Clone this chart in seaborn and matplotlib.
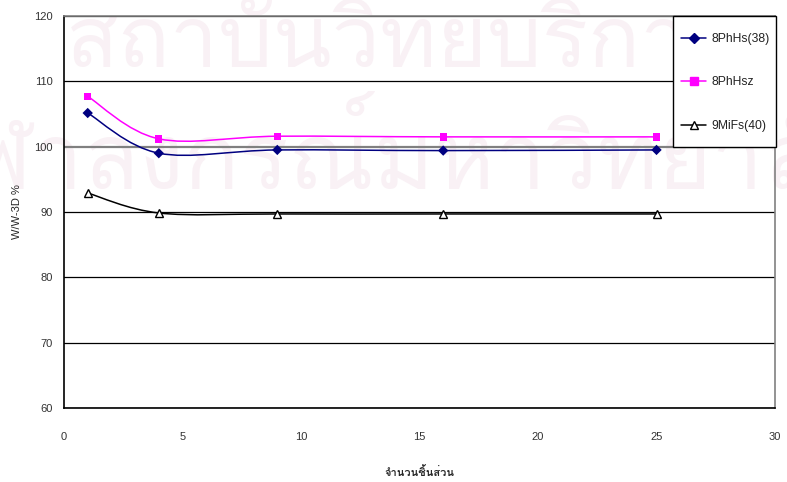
import numpy as np
import pandas as pd
import matplotlib
matplotlib.use("Agg")
import matplotlib.pyplot as plt
from matplotlib import font_manager, ft2font
from matplotlib.path import Path
from matplotlib.patches import PathPatch, Rectangle
from matplotlib.lines import Line2D
import seaborn as sns

# ---- data -------------------------------------------------------------
parts = [1, 4, 9, 16, 25]
ph_hs_38 = [105.15, 99.0, 99.5, 99.4, 99.5]
ph_hsz = [107.7, 101.2, 101.6, 101.5, 101.5]
mifs_40 = [92.9, 89.85, 89.7, 89.7, 89.7]
series_names = ["8PhHs(38)", "8PhHsz", "9MiFs(40)"]
x_ticks = [0, 5, 10, 15, 20, 25, 30]
y_ticks = [60, 70, 80, 90, 100, 110, 120]
x_label = "จำนวนชิ้นส่วน"
y_label = "W/W-3D %"
mark_top = "สถาบันวิทยบริการ"
mark_bottom = "จุฬาลงกรณ์มหาวิทยาลัย"


def thai_family():
    for f in font_manager.fontManager.ttflist:
        try:
            if 0x0E08 in ft2font.FT2Font(f.fname).get_charmap():
                return f.name
        except Exception:
            pass
    return "DejaVu Sans"


sns.set_theme(style="white")
base_font = "Liberation Sans"
plt.rcParams["font.family"] = [base_font, "DejaVu Sans"]
thai = [thai_family(), "DejaVu Sans"]

df = pd.DataFrame({
    "x": parts * 3,
    "y": ph_hs_38 + ph_hsz + mifs_40,
    "series": np.repeat(series_names, len(parts)),
})

colors = {"8PhHs(38)": "#000080", "8PhHsz": "#FF00FF", "9MiFs(40)": "#000000"}
markers = {"8PhHs(38)": "D", "8PhHsz": "s", "9MiFs(40)": "^"}

W, H = 787, 482
fig = plt.figure(figsize=(W / 100, H / 100), dpi=100)
ax = fig.add_axes([64 / W, 1 - 408 / H, 711 / W, 392 / H])
ax.set_facecolor("none")

# faint background lettering
wm_color = "#F9F1F5"
fig.text(401 / W, 1 - 45 / H, mark_top, family=thai, fontsize=62,
         color=wm_color, ha="center", va="center", zorder=-5)
fig.text(395 / W, 1 - 152 / H, mark_bottom, family=thai, fontsize=66,
         color=wm_color, ha="center", va="center", zorder=-5)


def smooth_path(xs, ys):
    # cubic Bezier through every point (Catmull-Rom tangents)
    pts = np.column_stack([xs, ys]).astype(float)
    n = len(pts)
    verts = [pts[0]]
    codes = [Path.MOVETO]
    for i in range(n - 1):
        p0 = pts[i - 1] if i > 0 else pts[i]
        p1, p2 = pts[i], pts[i + 1]
        p3 = pts[i + 2] if i + 2 < n else pts[i + 1]
        verts += [p1 + (p2 - p0) / 6, p2 - (p3 - p1) / 6, p2]
        codes += [Path.CURVE4] * 3
    return Path(verts, codes)


for name in series_names:
    sub = df[df.series == name]
    ax.add_patch(PathPatch(smooth_path(sub.x.values, sub.y.values),
                           fill=False, edgecolor=colors[name], lw=1.1, zorder=3))

filled = df[df.series != "9MiFs(40)"]
sns.scatterplot(data=filled, x="x", y="y", hue="series", style="series",
                palette=colors, markers=markers, s=28, edgecolor="none",
                legend=False, ax=ax, zorder=4)
tri = df[df.series == "9MiFs(40)"]
ax.plot(tri.x, tri.y, ls="none", marker="^", ms=6, mfc="white", mec="black",
        mew=1.0, zorder=4)

ax.set_xlim(0, 30)
ax.set_ylim(60, 120)
ax.set_xticks(x_ticks)
ax.set_yticks(y_ticks)
ax.tick_params(axis="x", direction="inout", length=7, width=1, labelsize=8,
               pad=14, colors="black", labelcolor="#333333")
ax.tick_params(axis="y", direction="out", length=5, width=1, labelsize=8,
               pad=3, colors="black", labelcolor="#333333")
ax.yaxis.grid(True, color="black", lw=0.9)
ax.set_axisbelow(True)
for gl, val in zip(ax.get_ygridlines(), y_ticks):
    if val == 100:
        gl.set_color("#808080")
        gl.set_linewidth(1.6)
for s in ["left", "bottom"]:
    ax.spines[s].set_color("black")
    ax.spines[s].set_linewidth(1.2)
for s in ["top", "right"]:
    ax.spines[s].set_color("#808080")
    ax.spines[s].set_linewidth(1.2)

ax.set_xlabel(x_label, family=thai, fontsize=8, fontweight="bold", labelpad=17)
ax.set_ylabel(y_label, fontsize=8, labelpad=9)

# legend: white box with black border, entries placed inside it
box = Rectangle((673 / W, 1 - 147 / H), 103 / W, 131 / H,
                transform=fig.transFigure, facecolor="white",
                edgecolor="black", lw=1.0, zorder=9)
fig.add_artist(box)

handles = []
for name in series_names:
    if name == "9MiFs(40)":
        h = Line2D([], [], color="black", marker="^", ms=5.5, mfc="white",
                   mec="black", lw=1.1)
    else:
        h = Line2D([], [], color=colors[name], marker=markers[name],
                   ms=5 if name == "8PhHs(38)" else 6, lw=1.1)
    handles.append(h)
leg = fig.legend(handles, series_names, loc="upper left",
                 bbox_to_anchor=(681 / W, 1 - 33 / H), fontsize=8.7,
                 frameon=False, labelspacing=2.6, handlelength=2.1,
                 handletextpad=0.42, borderpad=0, borderaxespad=0)
for t in leg.get_texts():
    t.set_color("#222222")
leg.set_zorder(10)

fig.savefig("out.png", dpi=100)
